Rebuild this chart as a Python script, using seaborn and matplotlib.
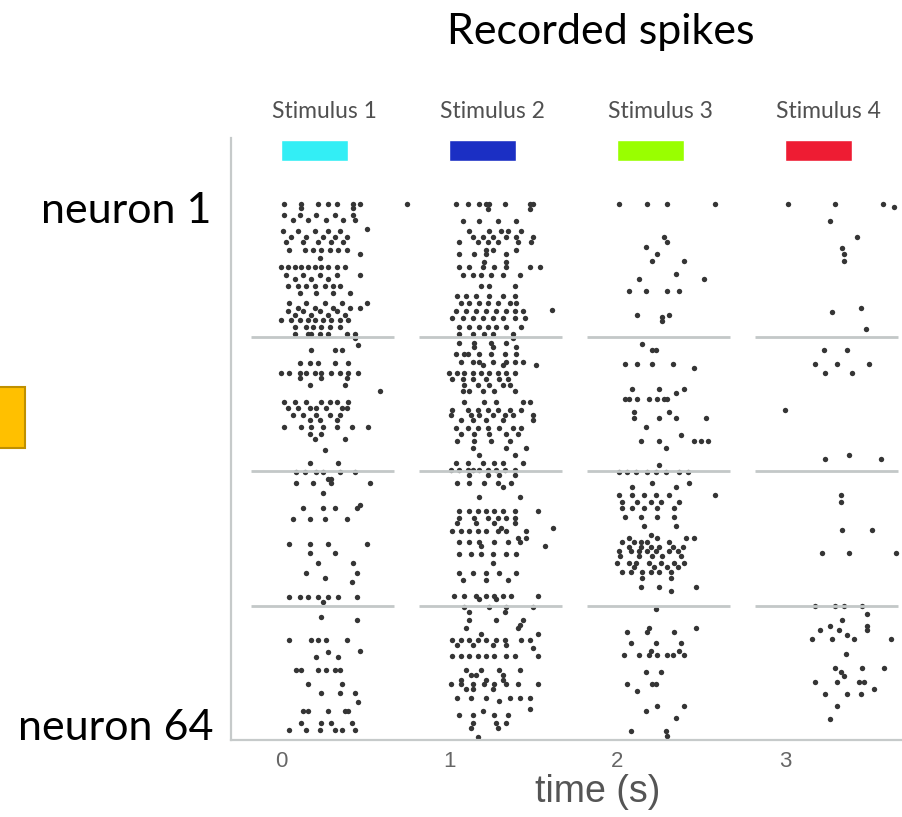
import matplotlib
matplotlib.use("Agg")
import matplotlib.pyplot as plt
from matplotlib.patches import Rectangle
import seaborn as sns
import pandas as pd

# ---------------- data ----------------
stim_labels = ["Stimulus 1", "Stimulus 2", "Stimulus 3", "Stimulus 4"]
stim_onsets = [0, 1, 2, 3]          # s
stim_durations = [0.4, 0.4, 0.4, 0.4]
stim_colors = ["#33EEF5", "#1B2FC4", "#99FF00", "#EE1C33"]
group_bounds = [17, 33, 49]         # neuron rows with separator lines
x_ticks = [0, 1, 2, 3]

# spike times (s, relative to stimulus onset) keyed by neuron row position
stim1_spikes = {
    1.2: [0.02, 0.12, 0.22, 0.28, 0.33, 0.43, 0.47, 0.75], 1.7: [0.12, 0.43],
    2.5: [0.02, 0.11, 0.21, 0.32, 0.43], 3.1: [0.07, 0.16, 0.27, 0.37, 0.44],
    4.2: [0.51], 4.5: [0.01, 0.10, 0.20, 0.28, 0.35], 5.1: [0.06, 0.15, 0.25, 0.32, 0.39],
    5.7: [0.03, 0.13, 0.22, 0.30, 0.37], 6.7: [0.05, 0.14, 0.19, 0.24, 0.29, 0.34, 0.39],
    7.2: [0.47], 7.7: [0.23], 8.7: [0.00, 0.04, 0.08, 0.12, 0.16, 0.20, 0.24, 0.28, 0.33, 0.38],
    9.7: [0.03, 0.13, 0.23, 0.33, 0.47], 10.2: [0.08, 0.18, 0.28],
    11.0: [0.04, 0.10, 0.15, 0.20, 0.26, 0.31, 0.35], 11.8: [0.11, 0.21, 0.31, 0.41],
    13.0: [0.05, 0.15, 0.26, 0.36, 0.51], 13.6: [0.10, 0.20, 0.31, 0.41, 0.47],
    14.0: [0.04, 0.13, 0.23, 0.33], 14.4: [0.08, 0.18, 0.28, 0.38],
    15.0: [0.00, 0.06, 0.11, 0.16, 0.20, 0.25, 0.30, 0.35, 0.40],
    15.8: [0.08, 0.15, 0.19, 0.24, 0.29, 0.35], 16.7: [0.08, 0.16, 0.18, 0.23, 0.28, 0.39, 0.44],
    17.2: [0.44], 18.0: [0.46], 18.6: [0.18, 0.32, 0.36], 20.1: [0.11, 0.17, 0.22, 0.32, 0.40],
    21.3: [0.00, 0.05, 0.11, 0.15, 0.20, 0.24, 0.30, 0.35, 0.40, 0.46], 21.9: [0.11, 0.24, 0.39],
    22.7: [0.17, 0.38], 23.4: [0.59], 24.8: [0.02, 0.08, 0.15, 0.24, 0.29, 0.33, 0.40],
    25.5: [0.04, 0.10, 0.17, 0.21, 0.27, 0.36, 0.39], 26.3: [0.07, 0.13, 0.21, 0.29, 0.35],
    26.9: [0.17, 0.23, 0.33], 27.7: [0.02, 0.12, 0.18, 0.25, 0.33, 0.42, 0.52],
    28.6: [0.17, 0.24], 29.2: [0.20, 0.38], 30.5: [0.26], 32.0: [0.17, 0.34],
    33.1: [0.09, 0.14, 0.21, 0.25, 0.35, 0.44], 33.9: [0.28, 0.30], 34.4: [0.09, 0.19, 0.30, 0.53],
    35.6: [0.25], 37.0: [0.47], 37.4: [0.13, 0.25, 0.32, 0.45], 38.6: [0.07, 0.17, 0.26, 0.39],
    41.6: [0.05, 0.17, 0.28, 0.51], 42.7: [0.17, 0.32], 43.9: [0.22, 0.43], 45.1: [0.15, 0.45],
    45.6: [0.26], 46.1: [0.42], 47.9: [0.05, 0.11, 0.16, 0.22, 0.28, 0.34, 0.45], 48.5: [0.25],
    50.3: [0.24], 50.7: [0.45], 53.0: [0.05, 0.18, 0.22, 0.27, 0.39], 54.3: [0.47], 54.5: [0.28],
    55.0: [0.21, 0.34], 56.6: [0.09, 0.12, 0.22, 0.27, 0.32, 0.35], 58.3: [0.16, 0.36],
    59.3: [0.24, 0.35, 0.44], 60.4: [0.46], 61.4: [0.13, 0.16, 0.28, 0.38, 0.40],
    62.9: [0.12, 0.24, 0.30, 0.42], 63.7: [0.05, 0.15, 0.23, 0.32, 0.36, 0.44],
}
stim2_spikes = {
    1.2: [0.04, 0.11, 0.18, 0.22, 0.24, 0.33, 0.48, 0.50], 1.8: [0.23, 0.48],
    3.2: [0.08, 0.18, 0.29, 0.40], 4.5: [0.12, 0.24, 0.31, 0.35, 0.43],
    5.1: [0.14, 0.20, 0.26, 0.34, 0.40, 0.50], 5.7: [0.06, 0.17, 0.23, 0.29, 0.41, 0.49],
    6.7: [0.22, 0.26, 0.40], 7.2: [0.06, 0.15, 0.22, 0.34], 8.1: [0.21, 0.34],
    8.7: [0.06, 0.12, 0.20, 0.27, 0.34, 0.48, 0.54], 9.7: [0.08, 0.14, 0.19, 0.25, 0.32, 0.42],
    11.0: [0.19, 0.24, 0.39], 12.2: [0.05, 0.10, 0.16, 0.24, 0.32, 0.39],
    13.0: [0.07, 0.12, 0.18, 0.23, 0.29, 0.36, 0.40], 13.8: [0.61],
    14.0: [0.04, 0.10, 0.16, 0.22, 0.28, 0.34, 0.39, 0.44],
    14.8: [0.02, 0.08, 0.14, 0.20, 0.26, 0.32, 0.39, 0.45],
    15.8: [0.06, 0.12, 0.18, 0.23, 0.28, 0.34, 0.43], 16.7: [0.06, 0.14, 0.21, 0.26, 0.38],
    17.1: [0.38], 17.8: [0.06, 0.15, 0.25, 0.34], 18.2: [0.15, 0.26, 0.40],
    19.0: [0.04, 0.09, 0.11, 0.18, 0.25, 0.33, 0.40], 20.0: [0.07, 0.14, 0.18, 0.26, 0.34, 0.39, 0.44],
    20.4: [0.20, 0.32, 0.52], 21.3: [0.00, 0.05, 0.09, 0.14, 0.19, 0.24, 0.29, 0.34, 0.39],
    22.0: [0.02, 0.08, 0.14, 0.22, 0.30, 0.35], 22.7: [0.09, 0.17, 0.24, 0.32, 0.36],
    23.4: [0.08, 0.12, 0.20, 0.27, 0.39], 24.7: [0.09, 0.21, 0.28, 0.44, 0.48],
    25.7: [0.02, 0.11, 0.17, 0.23, 0.29, 0.36, 0.43], 26.3: [0.01, 0.13, 0.18, 0.26, 0.33, 0.38, 0.50],
    26.9: [0.07, 0.14, 0.22, 0.32, 0.50], 27.8: [0.04, 0.11, 0.17, 0.23, 0.30, 0.38, 0.43],
    28.6: [0.07, 0.15, 0.24, 0.34, 0.41], 29.4: [0.05, 0.15, 0.25, 0.36], 30.2: [0.14, 0.34, 0.46],
    31.0: [0.18, 0.39], 32.0: [0.04, 0.11, 0.20, 0.27, 0.32, 0.44],
    32.8: [0.01, 0.06, 0.11, 0.14, 0.18, 0.23, 0.28, 0.33, 0.39], 33.4: [0.12, 0.23, 0.30, 0.39],
    34.4: [0.05, 0.12, 0.21, 0.29, 0.37], 34.8: [0.32], 36.0: [0.18, 0.42],
    37.7: [0.06, 0.12, 0.17, 0.22, 0.27, 0.32, 0.39, 0.53], 38.5: [0.06, 0.15, 0.23, 0.29, 0.34, 0.39],
    39.1: [0.05, 0.16, 0.27, 0.39], 39.7: [0.31, 0.62],
    40.1: [0.02, 0.07, 0.12, 0.17, 0.22, 0.29, 0.34, 0.46], 40.9: [0.41, 0.46],
    41.4: [0.06, 0.12, 0.18, 0.27, 0.35, 0.42], 41.9: [0.19, 0.57],
    42.8: [0.06, 0.13, 0.19, 0.26, 0.34, 0.40], 43.9: [0.26], 45.1: [0.06, 0.14, 0.22, 0.30, 0.40],
    45.9: [0.08, 0.22, 0.35], 47.8: [0.03, 0.09, 0.16, 0.22, 0.27, 0.32, 0.37, 0.53],
    48.2: [0.18, 0.28], 49.1: [0.09, 0.24, 0.34, 0.50], 49.7: [0.12, 0.33],
    50.7: [0.12, 0.28, 0.44], 51.3: [0.42], 51.6: [0.10, 0.41], 52.3: [0.19, 0.53],
    53.0: [0.02, 0.07, 0.12, 0.17, 0.22, 0.28, 0.33, 0.43, 0.48], 53.6: [0.05, 0.14, 0.26, 0.34],
    54.0: [0.50], 54.9: [0.02, 0.07, 0.12, 0.17, 0.22, 0.27, 0.34, 0.39, 0.53],
    56.6: [0.10, 0.19, 0.30, 0.42], 57.2: [0.13, 0.16, 0.32], 57.8: [0.07, 0.22, 0.32],
    58.3: [0.01, 0.07, 0.14, 0.21, 0.27, 0.34, 0.41, 0.53], 58.9: [0.10, 0.14, 0.26],
    59.9: [0.05, 0.13, 0.22, 0.36, 0.42, 0.48], 60.3: [0.30], 61.2: [0.48], 61.5: [0.20],
    61.9: [0.06, 0.14, 0.27, 0.35], 62.9: [0.14, 0.28, 0.34], 63.5: [0.13, 0.29], 64.5: [0.17],
}
stim3_spikes = {
    1.2: [0.01, 0.18, 0.30, 0.58], 5.2: [0.28], 5.7: [0.30], 6.3: [0.17], 7.2: [0.24],
    8.0: [0.21, 0.40], 9.6: [0.35], 10.2: [0.13, 0.52], 11.6: [0.07, 0.17, 0.30, 0.37],
    14.4: [0.12, 0.31], 14.7: [0.27], 15.1: [0.27],
    17.9: [0.15], 18.6: [0.21, 0.23], 20.2: [0.05, 0.12, 0.21, 0.33], 20.7: [0.46],
    23.2: [0.09, 0.25, 0.40], 23.7: [0.35], 24.4: [0.05, 0.07, 0.12, 0.19, 0.24, 0.28, 0.30],
    25.9: [0.10, 0.31], 26.7: [0.10, 0.25, 0.35, 0.53], 27.7: [0.17], 28.7: [0.38],
    29.4: [0.14, 0.25, 0.46, 0.50, 0.54], 30.2: [0.29], 32.2: [0.25],
    33.1: [0.01, 0.06, 0.11, 0.18, 0.23, 0.29, 0.37, 0.42], 34.4: [0.21, 0.43], 34.9: [0.09, 0.35],
    35.8: [0.01, 0.09, 0.16, 0.23, 0.31, 0.58], 36.6: [0.03, 0.12, 0.20, 0.26, 0.37],
    37.4: [0.03, 0.09, 0.16, 0.24, 0.34], 38.4: [0.05, 0.14, 0.24, 0.34], 39.5: [0.16, 0.35],
    40.5: [0.20], 40.9: [0.07, 0.24, 0.41, 0.46], 41.4: [0.03, 0.10, 0.14, 0.18, 0.31],
    42.0: [0.07, 0.14, 0.20, 0.25, 0.33, 0.39], 42.5: [0.01, 0.08, 0.13, 0.18, 0.23, 0.31, 0.36],
    43.1: [0.02, 0.13, 0.21, 0.27, 0.38], 43.9: [0.00, 0.07, 0.11, 0.19, 0.26, 0.34, 0.40],
    44.4: [0.10, 0.22, 0.30, 0.36], 45.0: [0.03, 0.08, 0.15, 0.20, 0.25, 0.32], 45.6: [0.15, 0.32],
    46.7: [0.14, 0.25, 0.47], 47.2: [0.32],
    49.3: [0.23], 51.6: [0.19, 0.47], 52.1: [0.06, 0.18, 0.34], 53.4: [0.08, 0.23, 0.38],
    54.3: [0.20, 0.37], 54.8: [0.04, 0.13, 0.19, 0.24, 0.30, 0.33, 0.40], 56.8: [0.17, 0.26],
    58.3: [0.06, 0.21, 0.23], 59.1: [0.12], 60.9: [0.24, 0.40], 61.4: [0.17], 62.3: [0.35],
    63.8: [0.08, 0.29], 64.4: [0.30],
}
stim4_spikes = {
    1.2: [0.02, 0.30, 0.58], 1.6: [0.65], 3.2: [0.27], 5.2: [0.43], 6.5: [0.34], 7.2: [0.35],
    8.0: [0.35], 13.6: [0.45], 14.1: [0.28], 16.1: [0.48],
    18.6: [0.23, 0.37], 20.2: [0.18, 0.31, 0.50], 21.3: [0.24, 0.40], 25.7: [0.00],
    31.0: [0.38], 31.5: [0.24, 0.57],
    35.8: [0.33], 36.6: [0.33], 39.9: [0.34, 0.52], 42.7: [0.22, 0.38, 0.66],
    49.0: [0.18, 0.30, 0.35, 0.46], 49.9: [0.49], 50.6: [0.34], 51.4: [0.27, 0.49],
    51.8: [0.21, 0.32, 0.49], 52.4: [0.37], 52.9: [0.16, 0.28, 0.41, 0.63], 54.7: [0.36],
    56.4: [0.30, 0.46, 0.59], 56.8: [0.33], 57.3: [0.35], 58.0: [0.18, 0.31, 0.44, 0.47],
    58.9: [0.53], 59.4: [0.24, 0.37, 0.45], 60.9: [0.31], 62.4: [0.27],
}

# ---------------- build table ----------------
rows = []
for onset, spikes in zip(stim_onsets, [stim1_spikes, stim2_spikes, stim3_spikes, stim4_spikes]):
    for nrn, times in spikes.items():
        for t in times:
            rows.append((onset + t, nrn))
df = pd.DataFrame(rows, columns=["time", "neuron"])

# ---------------- style ----------------
sns.set_style("white")
plt.rcParams["font.family"] = ["Lato", "DejaVu Sans"]
narrow = ["Liberation Sans", "DejaVu Sans"]
axis_grey = "#c6caca"

fig = plt.figure(figsize=(9.02, 8.17), dpi=100)
ax = fig.add_axes([231 / 902, 77 / 817, 671 / 902, 602 / 817])

sns.scatterplot(data=df, x="time", y="neuron", ax=ax, s=15, color="#353535",
                linewidth=0, marker="o", legend=False)

# group separators
for onset in stim_onsets:
    ax.hlines(group_bounds, onset - 0.18, onset + 0.67, color="#c3c8c8", lw=2, zorder=1)

# stimulus bars and labels
ax.barh(y=-5.15, width=stim_durations, left=stim_onsets, height=2.5,
        color=stim_colors, clip_on=False, zorder=3)
for onset, dur, lab in zip(stim_onsets, stim_durations, stim_labels):
    ax.text(onset + dur / 2 + 0.06, -9.8, lab, ha="center", va="center", fontsize=16.5,
            color="#505050", family=["Lato", "DejaVu Sans"], clip_on=False)

ax.set_xlim(-0.298, 3.696)
ax.set_ylim(64.9, -6.6)

for side in ["top", "right"]:
    ax.spines[side].set_visible(False)
for side in ["left", "bottom"]:
    ax.spines[side].set_color(axis_grey)
    ax.spines[side].set_linewidth(1.6)

ax.set_xticks(x_ticks)
ax.set_xticklabels([str(v) for v in x_ticks], fontsize=16, color="#666666", family=narrow)
ax.set_yticks([1] + group_bounds)
ax.set_yticklabels([])
ax.tick_params(axis="x", length=4, width=1.2, color=axis_grey, pad=4)
ax.tick_params(axis="y", length=3, width=1.2, color=axis_grey)
ax.set_ylabel("")
ax.set_xlabel("time (s)", fontsize=27, color="#555555", family=narrow)
ax.xaxis.set_label_coords(0.547, -0.056)

# annotations
fig.text(601 / 902, 1 - 32 / 817, "Recorded spikes", ha="center", va="center",
         fontsize=31, color="black")
fig.text(211 / 902, 1 - 211 / 817, "neuron 1", ha="right", va="center",
         fontsize=31, color="black")
fig.text(214 / 902, 1 - 728 / 817, "neuron 64", ha="right", va="center",
         fontsize=31, color="black")
fig.patches.append(Rectangle((-0.01, 369 / 817), 34 / 902, 61 / 817,
                             transform=fig.transFigure, facecolor="#FFC000",
                             edgecolor="#BF9000", lw=1.5))

fig.savefig("out.png", dpi=100)
